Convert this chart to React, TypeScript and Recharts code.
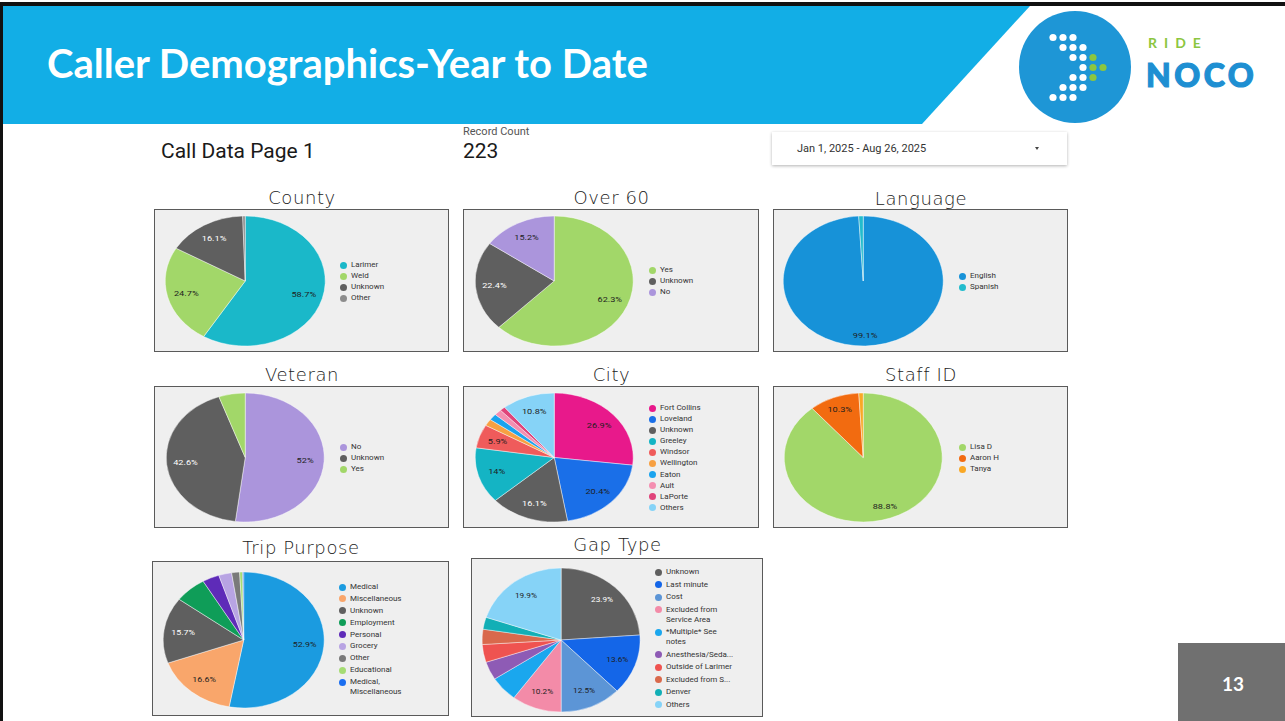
import React from 'react';
import { PieChart, Pie, Cell } from 'recharts';

const RAD = Math.PI / 180;
const DARK = '#5f5f5f';

// County
const countyNames = ['Larimer', 'Weld', 'Unknown', 'Other'];
const countyValues = [58.7, 24.7, 16.1, 0.5];
const countyColors = ['#1ab8c9', '#a2d769', DARK, '#8c8c8c'];

// Over 60
const over60Names = ['Yes', 'Unknown', 'No'];
const over60Values = [62.3, 22.4, 15.2];
const over60Colors = ['#a2d769', DARK, '#ab95dc'];

// Language
const languageNames = ['English', 'Spanish'];
const languageValues = [99.1, 0.9];
const languageColors = ['#1792d8', '#22bccd'];

// Veteran
const veteranNames = ['No', 'Unknown', 'Yes'];
const veteranValues = [52, 42.6, 5.4];
const veteranColors = ['#ab95dc', DARK, '#a2d769'];

// City
const cityNames = ['Fort Collins', 'Loveland', 'Unknown', 'Greeley', 'Windsor', 'Wellington', 'Eaton', 'Ault', 'LaPorte', 'Others'];
const cityValues = [26.9, 20.4, 16.1, 14, 5.9, 1.7, 1.6, 1.5, 1.1, 10.8];
const cityColors = ['#e8198b', '#1a6fe8', DARK, '#14b4c4', '#ef5b5b', '#f7a042', '#1aa3ee', '#f48fb1', '#e0447a', '#86d3f7'];

// Staff ID
const staffNames = ['Lisa D', 'Aaron H', 'Tanya'];
const staffValues = [88.8, 10.3, 0.9];
const staffColors = ['#a2d769', '#f26b10', '#f9a825'];

// Trip Purpose
const tripNames = ['Medical', 'Miscellaneous', 'Unknown', 'Employment', 'Personal', 'Grocery', 'Other', 'Educational', 'Medical,\nMiscellaneous'];
const tripValues = [52.9, 16.6, 15.7, 6.4, 3.4, 2.6, 1.6, 0.6, 0.2];
const tripColors = ['#1b9be0', '#f9a66b', DARK, '#0f9d58', '#5e2bb8', '#b8a4e3', '#7a7a7a', '#a5dc73', '#1a6ef0'];

// Gap Type
const gapNames = ['Unknown', 'Last minute', 'Cost', 'Excluded from\nService Area', '*Multiple* See\nnotes', 'Anesthesia/Seda...', 'Outside of Larimer', 'Excluded from S...', 'Denver', 'Others'];
const gapValues = [23.9, 13.6, 12.5, 10.2, 5.7, 4.1, 4.0, 3.4, 2.7, 19.9];
const gapColors = [DARK, '#1466e8', '#5c95d6', '#f38ba8', '#1aa7ee', '#8e5bb5', '#ef5350', '#d9694c', '#12afb6', '#86d3f7'];

const logoRows = [
  [0, 1, 2],
  [1, 2, 3],
  [2, 3],
  [3],
  [2, 3],
  [1, 2, 3],
  [0, 1, 2],
];
const logoGreen = [[], [], [4], [4, 5], [4], [], []];

type PieBoxProps = {
  names: string[];
  values: number[];
  colors: string[];
  cx: number;
  cy: number;
  rx: number;
  ry: number;
  minLabel?: number;
  labelR?: number;
};

function EllipsePie({ names, values, colors, cx, cy, rx, ry, minLabel = 5, labelR = 0.76 }: PieBoxProps) {
  const sx = rx / ry;
  const size = ry * 2 + 2;
  const rows = names.map((name, i) => ({ name, value: values[i] }));
  const renderLabel = (p: any) => {
    if (p.value < minLabel) return <g />;
    const r = p.outerRadius * labelR;
    const x = p.cx + r * Math.cos(-p.midAngle * RAD);
    const y = p.cy + r * Math.sin(-p.midAngle * RAD);
    return (
      <text
        x={x}
        y={y}
        textAnchor="middle"
        dominantBaseline="central"
        fontSize={7.5}
        fontFamily="Roboto"
        fill={colors[p.index] === DARK ? '#ffffff' : '#1e1e1e'}
      >
        {p.value}%
      </text>
    );
  };
  return (
    <div
      style={{
        position: 'absolute',
        left: cx - rx - sx,
        top: cy - ry - 1,
        width: size,
        height: size,
        transform: `scaleX(${sx})`,
        transformOrigin: 'left top',
      }}
    >
      <PieChart width={size} height={size} margin={{ top: 0, right: 0, bottom: 0, left: 0 }}>
        <Pie
          data={rows}
          dataKey="value"
          nameKey="name"
          cx="50%"
          cy="50%"
          outerRadius={ry}
          startAngle={90}
          endAngle={-270}
          stroke="#ffffff"
          strokeWidth={0.4}
          labelLine={false}
          label={renderLabel}
          isAnimationActive={false}
        >
          {rows.map((r, i) => (
            <Cell key={r.name} fill={colors[i]} />
          ))}
        </Pie>
      </PieChart>
    </div>
  );
}

function Legend({ labels, colors, x, y, step }: { labels: string[]; colors: string[]; x: number; y: number; step: number }) {
  return (
    <div
      style={{
        position: 'absolute',
        left: x - 3.5,
        top: y - 5,
        fontFamily: 'Roboto',
        fontSize: 8,
        color: '#333',
        lineHeight: '10px',
      }}
    >
      {labels.map((l, i) => (
        <div key={l} style={{ display: 'flex', alignItems: 'flex-start', marginBottom: step - 10, whiteSpace: 'pre' }}>
          <span
            style={{
              width: 7,
              height: 7,
              borderRadius: '50%',
              background: colors[i],
              marginTop: 1.5,
              marginRight: 4.5,
              flex: 'none',
            }}
          />
          <span>{l}</span>
        </div>
      ))}
    </div>
  );
}

function Panel({ title, x, y, w, h, titleY }: { title: string; x: number; y: number; w: number; h: number; titleY: number }) {
  return (
    <>
      <div
        style={{
          position: 'absolute',
          left: x,
          top: titleY - 12,
          width: w,
          textAlign: 'center',
          fontFamily: 'DejaVu Sans',
          fontWeight: 300,
          fontSize: 18,
          lineHeight: '24px',
          color: '#222',
          letterSpacing: 0.6,
        }}
      >
        {title}
      </div>
      <div
        style={{
          position: 'absolute',
          left: x,
          top: y,
          width: w - 3,
          height: h - 3,
          background: '#efefef',
          border: '1.5px solid #5a5a5a',
        }}
      />
    </>
  );
}

export default function App() {
  return (
    <div style={{ position: 'absolute', left: 0, top: 0, width: 1285, height: 721, overflow: 'hidden', background: '#fff', fontFamily: 'Roboto' }}>
      <svg width={1285} height={721} style={{ position: 'absolute', left: 0, top: 0 }}>
        <rect x={0} y={2} width={1285} height={4} fill="#111" />
        <rect x={0} y={2} width={3} height={719} fill="#111" />
        <polygon points="3,6 1030,6 922,124 3,124" fill="#12aee6" />
        <text x={47} y={78} fontFamily="Lato" fontWeight={700} fontSize={40} fill="#ffffff">
          Caller Demographics-Year to Date
        </text>
        <circle cx={1075} cy={67} r={56} fill="#1e96d6" />
        {logoRows.map((cols, r) =>
          cols.map((c) => <circle key={`w${r}-${c}`} cx={1053 + c * 10} cy={37.5 + r * 10} r={3.6} fill="#ffffff" />)
        )}
        {logoGreen.map((cols, r) =>
          cols.map((c) => <circle key={`g${r}-${c}`} cx={1053 + c * 10} cy={37.5 + r * 10} r={3.6} fill="#8cc63f" />)
        )}
        <text x={1148} y={48} fontFamily="Lato" fontWeight={700} fontSize={14} fill="#8cc63f" letterSpacing={7}>
          RIDE
        </text>
        <text
          x={1146}
          y={87}
          fontFamily="Lato"
          fontWeight={900}
          fontSize={32}
          fill="#1e8fd2"
          stroke="#1e8fd2"
          strokeWidth={1.2}
          letterSpacing={3.5}
        >
          NOCO
        </text>
        <text x={161} y={158} fontFamily="Roboto" fontSize={21} fill="#1a1a1a">
          Call Data Page 1
        </text>
        <text x={463} y={135} fontFamily="Roboto" fontSize={11} fill="#555">
          Record Count
        </text>
        <text x={463} y={158} fontFamily="Roboto" fontSize={21} fill="#1a1a1a">
          223
        </text>
        <rect x={1178} y={643} width={107} height={78} fill="#707070" />
        <text x={1233} y={691} textAnchor="middle" fontFamily="Lato" fontWeight={700} fontSize={19} fill="#ffffff">
          13
        </text>
      </svg>

      <div
        style={{
          position: 'absolute',
          left: 772,
          top: 132,
          width: 295,
          height: 33,
          background: '#fff',
          boxShadow: '0 1px 3px rgba(0,0,0,0.3)',
        }}
      >
        <span style={{ position: 'absolute', left: 25, top: 10, fontSize: 11, color: '#333', fontFamily: 'Roboto' }}>
          Jan 1, 2025 - Aug 26, 2025
        </span>
        <span
          style={{
            position: 'absolute',
            left: 263,
            top: 15,
            width: 0,
            height: 0,
            borderLeft: '2.5px solid transparent',
            borderRight: '2.5px solid transparent',
            borderTop: '3px solid #444',
          }}
        />
      </div>

      <Panel title="County" x={154} y={209} w={296} h={144} titleY={198} />
      <Panel title="Over 60" x={463} y={209} w={297} h={144} titleY={198} />
      <Panel title="Language" x={773} y={209} w={296} h={144} titleY={199} />
      <Panel title="Veteran" x={154} y={386} w={296} h={143} titleY={375} />
      <Panel title="City" x={463} y={386} w={297} h={143} titleY={375} />
      <Panel title="Staff ID" x={773} y={386} w={296} h={143} titleY={375} />
      <Panel title="Trip Purpose" x={152} y={561} w={298} h={156} titleY={548} />
      <Panel title="Gap Type" x={471} y={558} w={293} h={160} titleY={545} />

      <EllipsePie names={countyNames} values={countyValues} colors={countyColors} cx={245} cy={281} rx={80} ry={65} />
      <EllipsePie names={over60Names} values={over60Values} colors={over60Colors} cx={554} cy={281} rx={79} ry={65} />
      <EllipsePie names={languageNames} values={languageValues} colors={languageColors} cx={863} cy={281} rx={80} ry={65} labelR={0.83} />
      <EllipsePie names={veteranNames} values={veteranValues} colors={veteranColors} cx={245} cy={457} rx={79} ry={64.5} minLabel={6} />
      <EllipsePie names={cityNames} values={cityValues} colors={cityColors} cx={554} cy={457} rx={79} ry={64.5} />
      <EllipsePie names={staffNames} values={staffValues} colors={staffColors} cx={863} cy={457} rx={79} ry={64.5} labelR={0.8} />
      <EllipsePie names={tripNames} values={tripValues} colors={tripColors} cx={243.5} cy={639.5} rx={80.5} ry={68} minLabel={10} />
      <EllipsePie names={gapNames} values={gapValues} colors={gapColors} cx={561} cy={640} rx={79} ry={72} minLabel={10} />

      <Legend labels={countyNames} colors={countyColors} x={343} y={265} step={11} />
      <Legend labels={over60Names} colors={over60Colors} x={652} y={270} step={11.2} />
      <Legend labels={languageNames} colors={languageColors} x={962} y={276} step={11} />
      <Legend labels={veteranNames} colors={veteranColors} x={343} y={447} step={11} />
      <Legend labels={cityNames} colors={cityColors} x={652} y={408} step={11.1} />
      <Legend labels={staffNames} colors={staffColors} x={962} y={447} step={11} />
      <Legend labels={tripNames} colors={tripColors} x={342} y={587} step={11.9} />
      <Legend labels={gapNames} colors={gapColors} x={658} y={572} step={12.5} />
    </div>
  );
}
